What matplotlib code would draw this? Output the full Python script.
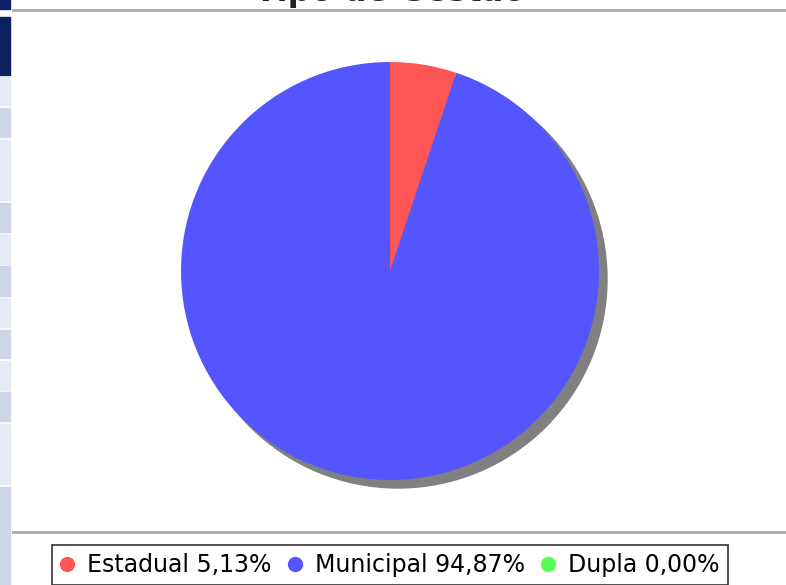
import matplotlib.pyplot as plt
from matplotlib.lines import Line2D
from matplotlib.patches import Rectangle, Circle

# dados do grafico "Tipo de Gestão"
categorias = ['Estadual', 'Municipal', 'Dupla']
percentuais = [5.13, 94.87, 0.00]
cores = ['#FF5555', '#5555FF', '#55FF55']
titulo = 'Tipo de Gestão'

W, H = 786, 585
fig = plt.figure(figsize=(W / 100, H / 100), dpi=100)
fig.patch.set_facecolor('white')

# faixa lateral da pagina (menu)
faixa = [(0, 9, '#0B2161'), (17, 75, '#0B2161'), (77, 105, '#E6EAF2'),
         (108, 137, '#CDD5E6'), (140, 200, '#E6EAF2'), (203, 232, '#CDD5E6'),
         (234, 264, '#E6EAF2'), (266, 296, '#CDD5E6'), (298, 327, '#E6EAF2'),
         (330, 358, '#CDD5E6'), (361, 390, '#E6EAF2'), (392, 421, '#CDD5E6'),
         (424, 484, '#E6EAF2'), (487, 585, '#CDD5E6')]
for y0, y1, c in faixa:
    fig.patches.append(Rectangle((0, 1 - y1 / H), 10 / W, (y1 - y0) / H,
                                 transform=fig.transFigure, color=c, zorder=0))

# linhas separadoras
for y in (10, 532):
    fig.add_artist(Line2D([13 / W, 1], [1 - y / H] * 2, color='#AAAAAA', lw=2))

# titulo (cortado no topo, como na captura)
fig.text(390 / W, 1 - 0.5 / H, titulo, ha='center', va='baseline',
         fontsize=23, fontweight='bold', color='#222222')

# pizza
cx, cy, r = 390, 271, 209
ax = fig.add_axes([(cx - r) / W, (H - cy - r) / H, 2 * r / W, 2 * r / H])
ax.axis('off')
sombra = 8 / r
ax.add_patch(Circle((sombra, -sombra), 1.0, color='#808080', zorder=0,
                    clip_on=False))
ax.pie(percentuais, colors=cores, startangle=90, counterclock=False,
       radius=1.0, wedgeprops=dict(linewidth=0))
ax.set_xlim(-1.0, 1.0)
ax.set_ylim(-1.0, 1.0)
ax.set_aspect('equal')

# legenda
rotulos = ['%s %s%%' % (c, ('%.2f' % p).replace('.', ','))
           for c, p in zip(categorias, percentuais)]
marcas = [Line2D([], [], marker='o', ls='', markersize=10, markerfacecolor=c,
                 markeredgecolor=c) for c in cores]
leg = fig.legend(marcas, rotulos, loc='upper left', ncol=3,
                 bbox_to_anchor=(52 / W, 1 - 545 / H),
                 prop=dict(family='DejaVu Sans', size=17),
                 frameon=True, fancybox=False, borderpad=0.34,
                 handlelength=0.6, handletextpad=0.55, columnspacing=0.68,
                 borderaxespad=0)
leg.get_frame().set_edgecolor('black')
leg.get_frame().set_linewidth(1.2)

fig.savefig('out.png', dpi=100)
